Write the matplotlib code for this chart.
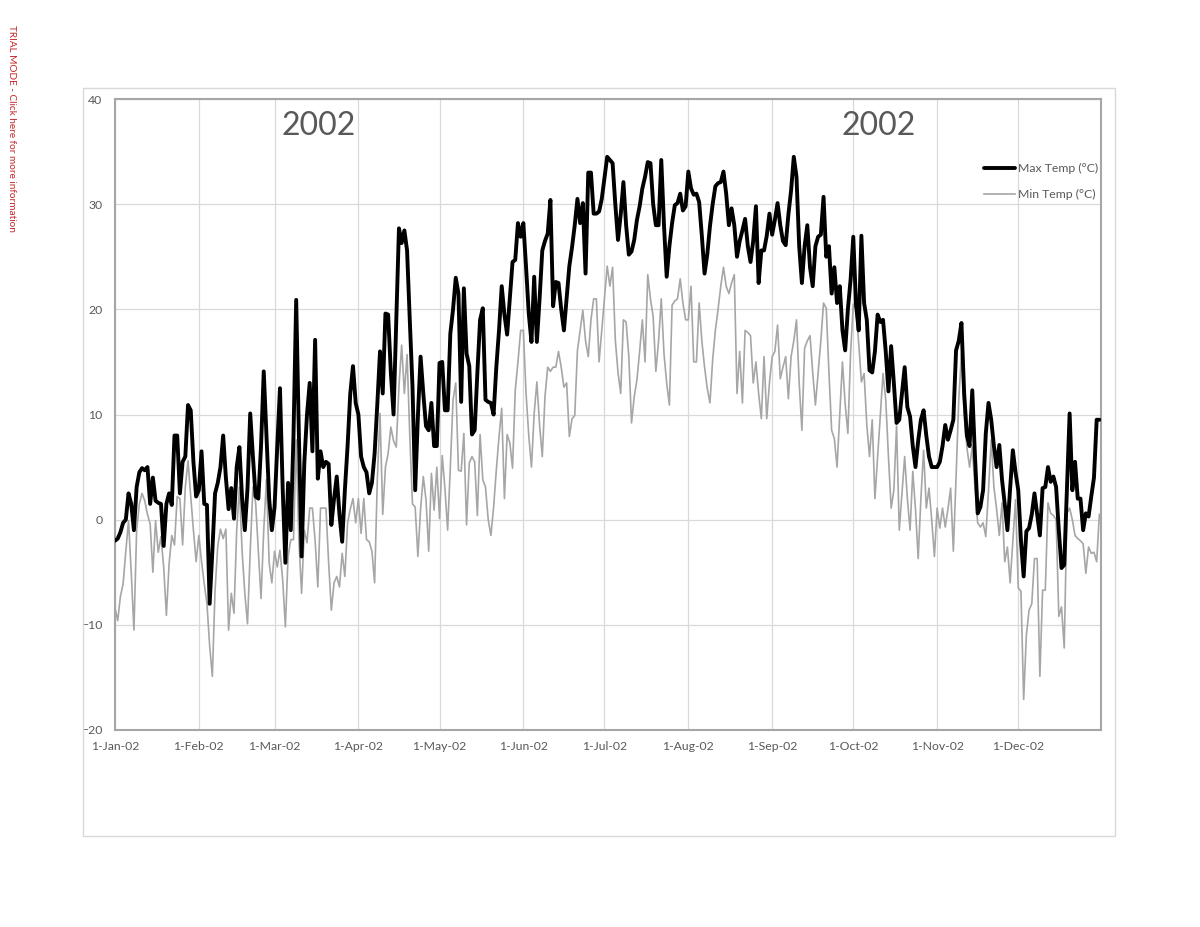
import numpy as np
import pandas as pd
import matplotlib
matplotlib.use("Agg")
import matplotlib.pyplot as plt
from matplotlib.patches import Rectangle

# ---- data (daily max / min temperature, 2002) ----
max_jan = [-2.0, -1.8, -1.2, -0.3, 0.0, 2.5, 1.5, -1.0, 3.1, 4.5, 4.9, 4.7, 5.0, 1.5, 4.0, 1.8, 1.6, 1.5, -2.5, 1.5, 2.5, 1.4, 8.0, 8.0, 2.5, 5.5, 6.0, 10.9, 10.4, 5.5, 2.2]
max_feb = [2.8, 6.5, 1.5, 1.4, -8.0, -3.0, 2.5, 3.5, 5.0, 8.0, 4.0, 1.0, 3.0, 0.1, 5.0, 6.9, 2.0, -1.0, 3.0, 10.1, 6.0, 2.2, 2.0, 7.0, 14.1, 8.0, 2.0, -1.0]
max_mar = [1.2, 7.0, 12.5, 3.0, -4.1, 3.5, -1.0, 8.0, 20.9, 8.0, -3.5, 5.4, 10.0, 13.0, 6.5, 17.1, 3.9, 6.5, 5.0, 5.5, 5.3, -0.5, 2.0, 4.1, 0.5, -2.1, 2.8, 7.0, 12.0, 14.6, 11.1]
max_apr = [10.0, 6.0, 5.0, 4.5, 2.5, 3.5, 6.3, 11.0, 16.0, 12.0, 19.6, 19.5, 14.0, 10.0, 19.0, 27.7, 26.3, 27.5, 25.6, 19.0, 12.7, 2.8, 9.8, 15.5, 12.0, 8.9, 8.5, 11.1, 7.0, 7.0]
max_may = [14.9, 15.0, 10.4, 10.4, 17.7, 20.0, 23.0, 21.5, 11.2, 22.0, 15.8, 14.6, 8.1, 8.5, 14.0, 19.0, 20.1, 11.4, 11.2, 11.1, 10.0, 14.5, 18.0, 22.2, 19.5, 17.6, 21.0, 24.5, 24.7, 28.2, 26.9]
max_jun = [28.2, 24.0, 19.6, 16.9, 23.1, 16.9, 21.0, 25.6, 26.5, 27.2, 30.4, 20.3, 22.6, 22.5, 20.0, 18.0, 21.0, 24.1, 25.9, 28.0, 30.5, 28.2, 30.1, 23.4, 33.0, 33.0, 29.1, 29.1, 29.3, 30.5]
max_jul = [32.5, 34.5, 34.2, 33.9, 30.0, 26.6, 29.0, 32.1, 28.0, 25.2, 25.5, 26.6, 28.5, 29.8, 31.5, 32.6, 34.0, 33.9, 30.0, 28.0, 28.0, 34.2, 28.0, 23.1, 26.0, 28.2, 29.9, 30.1, 31.0, 29.4, 29.8]
max_aug = [33.1, 31.5, 30.9, 31.0, 30.2, 27.0, 23.4, 25.2, 27.9, 30.0, 31.7, 32.0, 32.1, 33.1, 31.0, 28.0, 29.6, 28.0, 25.0, 26.5, 27.5, 28.6, 26.0, 24.5, 26.5, 29.8, 22.5, 25.6, 25.6, 27.0, 29.1]
max_sep = [27.1, 28.5, 30.1, 28.0, 26.5, 26.1, 29.0, 31.3, 34.5, 32.6, 26.0, 22.5, 26.0, 28.0, 24.0, 22.2, 26.0, 26.9, 27.1, 30.7, 25.0, 26.0, 21.5, 24.0, 20.6, 22.2, 18.0, 16.1, 20.0, 22.8]
max_oct = [26.9, 20.5, 18.0, 27.0, 20.6, 19.0, 14.2, 14.0, 16.0, 19.5, 18.8, 19.0, 16.0, 12.2, 16.5, 13.0, 9.2, 9.5, 12.0, 14.5, 10.7, 9.8, 7.0, 5.0, 7.5, 9.5, 10.4, 8.0, 6.0, 5.0, 5.0]
max_nov = [5.0, 5.5, 7.0, 9.0, 7.6, 8.5, 9.5, 16.1, 17.0, 18.7, 12.0, 8.0, 7.0, 12.3, 6.0, 0.6, 1.2, 2.8, 8.2, 11.1, 9.5, 7.0, 5.0, 7.1, 3.8, 1.5, -1.0, 3.0, 6.6, 4.5]
max_dec = [2.8, -2.0, -5.4, -1.1, -0.8, 0.5, 2.5, 0.5, -1.5, 3.0, 3.1, 5.0, 3.6, 4.1, 3.1, -1.0, -4.6, -4.3, 3.0, 10.1, 2.8, 5.5, 2.0, 2.0, -1.0, 0.6, 0.3, 2.2, 4.0, 9.5, 9.5]

min_jan = [-8.4, -9.6, -7.3, -6.1, -3.0, -0.1, -5.0, -10.5, -1.0, 1.5, 2.5, 1.8, 0.5, -0.4, -5.0, -0.1, -3.1, -1.6, -4.5, -9.1, -4.2, -1.5, -2.4, 2.2, 2.0, -2.4, 3.1, 5.6, 2.2, -1.0, -4.0]
min_feb = [-1.5, -4.0, -6.1, -8.0, -12.0, -14.9, -6.7, -2.5, -0.9, -1.8, -0.9, -10.5, -7.0, -8.9, -1.0, 3.1, -3.0, -7.0, -9.9, -3.0, 3.1, 1.6, -3.0, -7.5, -1.0, 3.8, -4.1, -6.0]
min_mar = [-3.0, -4.5, -2.9, -5.7, -10.2, -3.5, -1.9, -1.9, 7.6, -2.0, -7.0, -1.0, -2.2, 1.1, 1.1, -2.0, -6.4, 1.1, 1.1, 1.1, -4.1, -8.6, -6.0, -5.4, -6.4, -3.2, -5.4, -0.3, 1.0, 2.0, -0.3]
min_apr = [2.0, -1.3, 2.0, -1.9, -2.1, -3.0, -6.0, 3.8, 10.1, 0.5, 5.0, 6.3, 8.8, 7.5, 6.9, 12.7, 16.6, 12.0, 15.7, 8.0, 1.5, 1.2, -3.5, 1.0, 4.1, 1.9, -3.0, 4.4, 0.9, 5.0]
min_may = [0.1, 6.1, 3.0, -1.0, 5.0, 11.4, 13.0, 4.7, 4.6, 8.2, -0.5, 5.4, 6.0, 5.5, 0.4, 8.1, 3.8, 3.1, 0.0, -1.5, 1.2, 4.7, 7.9, 10.6, 2.0, 8.1, 7.3, 4.9, 12.3, 15.0, 18.0]
min_jun = [18.0, 12.0, 8.0, 5.0, 10.1, 13.1, 9.0, 6.0, 11.7, 14.5, 14.1, 14.5, 14.5, 16.0, 14.5, 12.6, 13.0, 7.9, 9.6, 9.9, 16.1, 18.0, 19.9, 17.0, 15.5, 19.0, 21.0, 21.0, 15.0, 18.0]
min_jul = [21.0, 24.1, 22.2, 24.0, 17.1, 14.0, 12.0, 19.0, 18.8, 15.5, 9.2, 11.7, 13.3, 16.0, 19.0, 15.0, 23.3, 21.0, 19.3, 14.1, 17.0, 21.0, 15.8, 13.0, 10.9, 20.4, 20.8, 21.0, 22.9, 20.6, 19.0]
min_aug = [19.0, 22.2, 15.0, 15.0, 20.6, 17.0, 14.5, 12.5, 11.1, 15.2, 18.0, 20.0, 22.2, 24.0, 22.2, 21.5, 22.5, 23.3, 12.0, 16.0, 11.1, 18.0, 17.8, 17.5, 13.0, 15.0, 12.0, 9.6, 15.5, 9.6, 13.0]
min_sep = [15.5, 16.0, 18.5, 13.4, 14.5, 15.5, 11.5, 15.5, 17.0, 19.0, 13.0, 8.5, 16.3, 17.0, 17.5, 14.0, 10.9, 14.0, 17.0, 20.6, 20.1, 14.0, 8.5, 7.7, 5.0, 10.0, 15.0, 11.0, 8.2, 15.8]
min_oct = [20.5, 20.0, 16.8, 13.1, 13.9, 9.0, 6.0, 9.5, 2.0, 6.0, 10.1, 13.9, 11.4, 6.0, 1.1, 2.8, 8.9, -1.0, 2.5, 6.0, 2.0, -1.0, 4.6, 1.0, -3.7, 2.0, 6.6, 1.1, 3.0, 0.0, -3.5]
min_nov = [1.1, -0.8, 1.1, -0.7, 1.0, 3.0, -3.0, 4.0, 11.4, 15.8, 10.0, 6.9, 5.0, 6.9, 3.0, -0.3, -0.7, -0.3, -1.6, 2.8, 7.6, 3.1, 1.0, -1.5, 1.6, -4.0, -2.6, -6.0, -2.0, 1.9]
min_dec = [-6.5, -6.8, -17.1, -11.0, -8.6, -8.0, -3.7, -3.7, -14.9, -6.7, -6.7, 1.6, 0.6, 0.4, 0.0, -9.2, -8.3, -12.2, 0.6, 1.1, 0.0, -1.5, -1.8, -2.0, -2.3, -5.1, -2.6, -3.2, -3.1, -4.0, 0.5]

month_tick_labels = ['1-Jan-02', '1-Feb-02', '1-Mar-02', '1-Apr-02', '1-May-02', '1-Jun-02',
                     '1-Jul-02', '1-Aug-02', '1-Sep-02', '1-Oct-02', '1-Nov-02', '1-Dec-02']
y_ticks = [-20, -10, 0, 10, 20, 30, 40]
series_names = ['Max Temp (°C)', 'Min Temp (°C)']
year_label = '2002'

tmax = (max_jan + max_feb + max_mar + max_apr + max_may + max_jun +
        max_jul + max_aug + max_sep + max_oct + max_nov + max_dec)
tmin = (min_jan + min_feb + min_mar + min_apr + min_may + min_jun +
        min_jul + min_aug + min_sep + min_oct + min_nov + min_dec)
dates = pd.date_range('2002-01-01', periods=len(tmax), freq='D')
month_starts = pd.date_range('2002-01-01', periods=12, freq='MS')

# ---- figure ----
plt.rcParams['font.family'] = ['Lato', 'DejaVu Sans']
fig = plt.figure(figsize=(12, 9.27), dpi=100)
W, H = 1200, 927

# outer chart frame
fig.patches.append(Rectangle((83 / W, 1 - 836 / H), (1115 - 83) / W, (836 - 88) / H,
                             transform=fig.transFigure, fill=False,
                             edgecolor='#d9d9d9', linewidth=1.0))

ax = fig.add_axes([115 / W, 1 - 730 / H, (1101 - 115) / W, (730 - 99) / H])

ax.plot(dates, tmax, color='black', linewidth=2.8, label=series_names[0],
        solid_joinstyle='round', solid_capstyle='round', zorder=3)
ax.plot(dates, tmin, color='#a6a6a6', linewidth=1.2, label=series_names[1],
        solid_joinstyle='round', zorder=2)

ax.set_ylim(-20, 40)
ax.set_yticks(y_ticks)
ax.set_xlim(dates[0], dates[0] + pd.Timedelta(days=364.6))
ax.set_xticks(month_starts)
ax.set_xticklabels(month_tick_labels)

ax.grid(True, color='#d9d9d9', linewidth=0.9)
ax.set_axisbelow(True)
ax.tick_params(axis='both', length=0, labelsize=8.8, labelcolor='#595959')
ax.tick_params(axis='y', pad=9)
ax.tick_params(axis='x', pad=8)
for s in ax.spines.values():
    s.set_color('#a6a6a6')
    s.set_linewidth(1.5)

# year labels
ax.text(0.207, 0.957, year_label, transform=ax.transAxes, fontsize=23,
        color='#595959', ha='center', va='center')
ax.text(0.774, 0.957, year_label, transform=ax.transAxes, fontsize=23,
        color='#595959', ha='center', va='center')

leg = ax.legend(loc='upper right', bbox_to_anchor=(1.002, 0.906), frameon=False,
                fontsize=8.8, handlelength=2.5, handletextpad=0.25,
                labelspacing=1.2, borderaxespad=0.0)
for t in leg.get_texts():
    t.set_color('#595959')

# trial-mode banner
fig.text(11 / W, 1 - 25 / H, 'TRIAL MODE - Click here for more information',
         rotation=270, color='#c62828', fontsize=7.2, ha='center', va='top')

fig.savefig('out.png', dpi=100)
